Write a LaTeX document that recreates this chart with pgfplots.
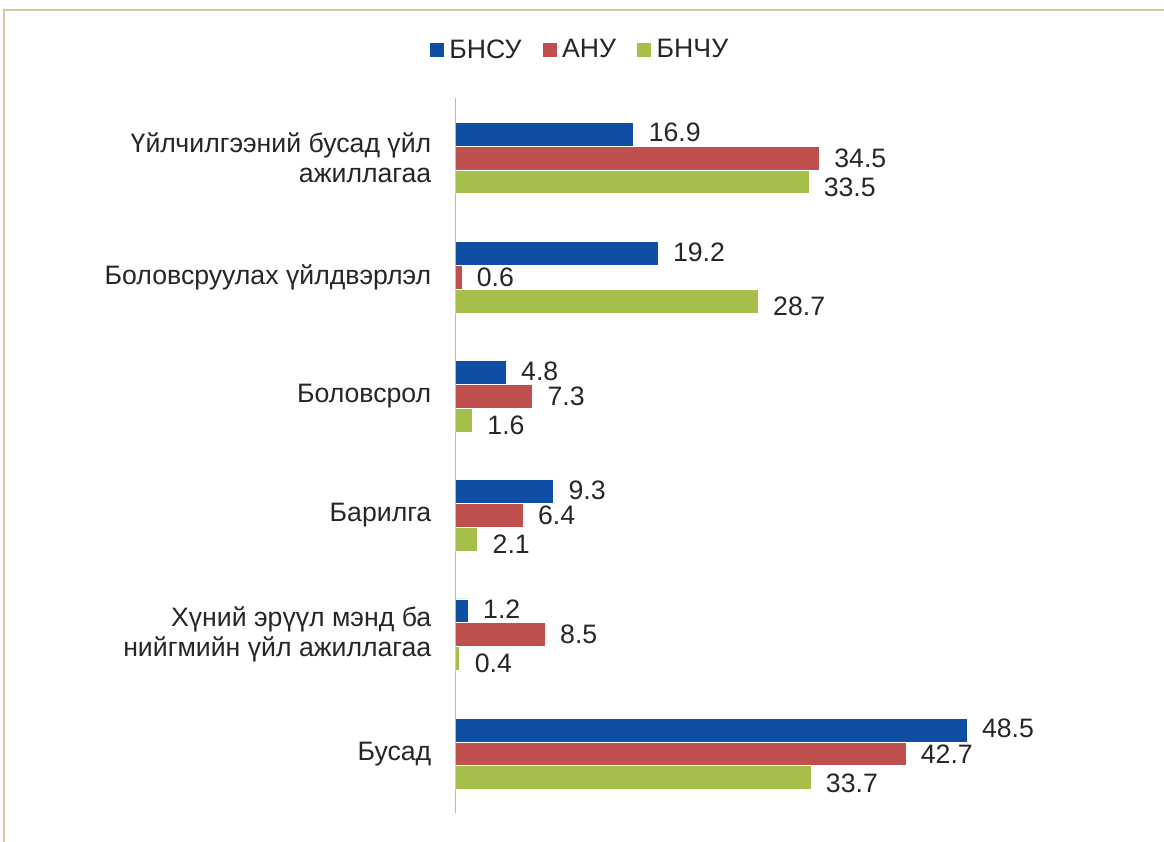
\documentclass[border=0pt]{standalone}
\usepackage{fontspec}
\setmainfont{Liberation Sans}
\usepackage{pgfplots}
\pgfplotsset{compat=1.18}
\definecolor{cblue}{HTML}{0E4EA3}
\definecolor{cred}{HTML}{C0504D}
\definecolor{cgreen}{HTML}{A5BF4A}
\definecolor{cframe}{HTML}{D8C79A}
\definecolor{ctext}{HTML}{262626}
\begin{document}
\begin{tikzpicture}[x=0.75pt,y=0.75pt]
\path[use as bounding box] (0,0) rectangle (1164,842);
\draw[cframe, line width=1.2pt] (4,0) -- (4,832) -- (1164,832);
\begin{axis}[
  at={(432,24)}, anchor=south west,
  scale only axis, width=435pt, height=536.25pt,
  xbar, bar width=0.2,
  xmin=0, xmax=55, ymin=-0.5, ymax=5.5,
  axis x line=none, axis y line*=left,
  y axis line style={gray!55, line width=0.9pt, -},
  ytick={0,...,5},
  yticklabels={Бусад, {Хүний эрүүл мэнд ба\\нийгмийн үйл ажиллагаа}, Барилга, Боловсрол, Боловсруулах үйлдвэрлэл, {Үйлчилгээний бусад үйл\\ажиллагаа}},
  major tick length=0pt,
  yticklabel style={align=right, inner sep=0pt, xshift=-18pt, text=ctext, font=\fontsize{20}{22.5}\selectfont},
  /pgf/number format/assume math mode=true,
  point meta=x,
  nodes near coords={\pgfmathprintnumber[fixed,fixed zerofill,precision=1]{\pgfplotspointmeta}},
  every node near coord/.append style={anchor=west, inner sep=0pt, xshift=11pt, text=ctext, font=\fontsize{20}{24}\selectfont},
  legend style={at={(0.2155,1.068)}, anchor=center, draw=none, fill=none, legend columns=3,
    font=\fontsize{20}{24}\selectfont, text=ctext,
    /tikz/every even column/.append style={column sep=14pt}},
  legend image code/.code={\fill[#1, draw=none] (0pt,-5.2pt) rectangle (10.5pt,5.2pt); \path (12.2pt,0pt);},
]
\addplot[fill=cblue, draw=white, line width=0.5pt, bar shift=0.2, every node near coord/.append style={yshift=1pt}]
  coordinates {(48.5,0) (1.2,1) (9.3,2) (4.8,3) (19.2,4) (16.9,5)};
\addplot[fill=cred, draw=white, line width=0.5pt, bar shift=0]
  coordinates {(42.7,0) (8.5,1) (6.4,2) (7.3,3) (0.6,4) (34.5,5)};
\addplot[fill=cgreen, draw=white, line width=0.5pt, bar shift=-0.2, every node near coord/.append style={yshift=-4pt}]
  coordinates {(33.7,0) (0.4,1) (2.1,2) (1.6,3) (28.7,4) (33.5,5)};
\legend{БНСУ, АНУ, БНЧУ}
\end{axis}
\end{tikzpicture}
\end{document}
